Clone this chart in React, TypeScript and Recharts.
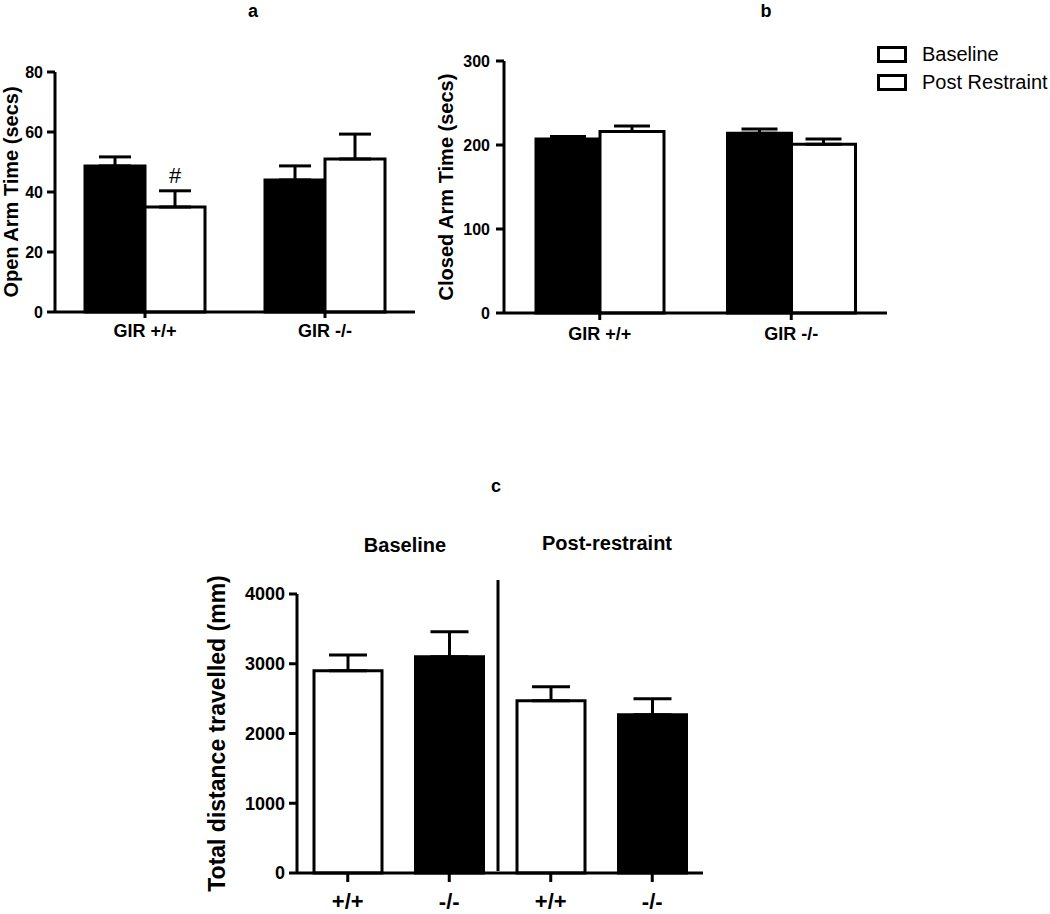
import { BarChart, Bar, XAxis, YAxis, ErrorBar, Legend, LabelList, Cell } from "recharts"

// panel a / b categories
const genotypes = ["GIR +/+", "GIR -/-"]

// a: open arm time (secs)
const openBaseline = [48.7, 44]
const openBaselineSem = [3, 4.7]
const openPost = [35, 51]
const openPostSem = [5.4, 8.3]
const openMarks = ["#", ""]
const openTicks = [0, 20, 40, 60, 80]

// b: closed arm time (secs)
const closedBaseline = [207, 214]
const closedBaselineSem = [3, 5]
const closedPost = [216, 201]
const closedPostSem = [6.5, 6]
const closedTicks = [0, 100, 200, 300]

// c: total distance travelled (mm)
const distanceGroups = ["Baseline", "Post-restraint"]
const distanceIds = ["base-wt", "base-ko", "post-wt", "post-ko"]
const distanceGenotypes = ["+/+", "-/-", "+/+", "-/-"]
const distanceValues = [2900, 3100, 2470, 2270]
const distanceSem = [225, 360, 200, 230]
const distanceTicks = [0, 1000, 2000, 3000, 4000]

const openData = genotypes.map((g, i) => ({
  genotype: g,
  baseline: openBaseline[i],
  baselineErr: [0, openBaselineSem[i]],
  post: openPost[i],
  postErr: [0, openPostSem[i]],
  mark: openMarks[i],
}))

const closedData = genotypes.map((g, i) => ({
  genotype: g,
  baseline: closedBaseline[i],
  baselineErr: [0, closedBaselineSem[i]],
  post: closedPost[i],
  postErr: [0, closedPostSem[i]],
}))

const distanceData = distanceIds.map((id, i) => ({
  id,
  genotype: distanceGenotypes[i],
  distance: distanceValues[i],
  err: [0, distanceSem[i]],
}))

const axisStyle = { stroke: "#000", strokeWidth: 3 }

const yTitle = (text: string, dx: number, size: number) => (props: any) => {
  const vb = props.viewBox
  const cx = vb.x + dx
  const cy = vb.y + vb.height / 2
  return (
    <text
      x={cx}
      y={cy}
      transform={`rotate(-90 ${cx} ${cy})`}
      textAnchor="middle"
      dominantBaseline="central"
      fontSize={size}
      fontWeight="bold"
      fill="#000"
    >
      {text}
    </text>
  )
}

const renderLegend = (props: any) => (
  <div style={{ fontSize: 20, color: "#000", whiteSpace: "nowrap" }}>
    {(props.payload || []).map((entry: any) => (
      <div key={entry.value} style={{ display: "flex", alignItems: "center", height: 28 }}>
        <span
          style={{
            width: 24,
            height: 11,
            border: "3px solid #000",
            background: "#fff",
            marginRight: 15,
            flexShrink: 0,
          }}
        />
        <span>{entry.value}</span>
      </div>
    ))}
  </div>
)

export default function App() {
  return (
    <div
      style={{
        position: "absolute",
        left: 0,
        top: 0,
        width: 1050,
        height: 914,
        background: "#fff",
        fontFamily: "'Liberation Sans', Arial, sans-serif",
      }}
    >
      {/* a */}
      <div style={{ position: "absolute", left: 0, top: 0 }}>
        <BarChart
          width={430}
          height={360}
          data={openData}
          margin={{ top: 72, right: 15, bottom: 8, left: 0 }}
          barCategoryGap={30}
          barGap={0}
        >
          <XAxis
            dataKey="genotype"
            height={40}
            interval={0}
            axisLine={axisStyle}
            tickLine={axisStyle}
            tickSize={6}
            tickMargin={6}
            tick={{ fill: "#000", fontSize: 18, fontWeight: "bold" }}
          />
          <YAxis
            width={55}
            domain={[0, 80]}
            ticks={openTicks}
            interval={0}
            axisLine={axisStyle}
            tickLine={axisStyle}
            tickSize={8}
            tickMargin={4}
            tick={{ fill: "#000", fontSize: 16, fontWeight: "bold" }}
            label={yTitle("Open Arm Time (secs)", 10.5, 20)}
          />
          <Bar dataKey="baseline" name="Baseline" fill="#000" stroke="#000" strokeWidth={3} isAnimationActive={false}>
            <ErrorBar dataKey="baselineErr" direction="y" width={16} stroke="#000" strokeWidth={3} isAnimationActive={false} />
          </Bar>
          <Bar dataKey="post" name="Post Restraint" fill="#fff" stroke="#000" strokeWidth={3} isAnimationActive={false}>
            <ErrorBar dataKey="postErr" direction="y" width={16} stroke="#000" strokeWidth={3} isAnimationActive={false} />
            <LabelList dataKey="mark" position="top" offset={24} fill="#000" fontSize={22} />
          </Bar>
        </BarChart>
      </div>

      {/* b */}
      <div style={{ position: "absolute", left: 420, top: 0 }}>
        <BarChart
          width={630}
          height={360}
          data={closedData}
          margin={{ top: 61, right: 163, bottom: 7, left: 0 }}
          barCategoryGap={32}
          barGap={0}
        >
          <XAxis
            dataKey="genotype"
            height={40}
            interval={0}
            axisLine={axisStyle}
            tickLine={axisStyle}
            tickSize={7}
            tickMargin={7}
            tick={{ fill: "#000", fontSize: 18, fontWeight: "bold" }}
          />
          <YAxis
            width={84}
            domain={[0, 300]}
            ticks={closedTicks}
            interval={0}
            axisLine={axisStyle}
            tickLine={axisStyle}
            tickSize={8}
            tickMargin={6}
            tick={{ fill: "#000", fontSize: 16, fontWeight: "bold" }}
            label={yTitle("Closed Arm Time (secs)", 26, 20)}
          />
          <Legend
            layout="vertical"
            align="center"
            verticalAlign="middle"
            wrapperStyle={{ left: 457, top: 40, width: "auto" }}
            content={renderLegend}
          />
          <Bar dataKey="baseline" name="Baseline" fill="#000" stroke="#000" strokeWidth={3} isAnimationActive={false}>
            <ErrorBar dataKey="baselineErr" direction="y" width={18} stroke="#000" strokeWidth={3} isAnimationActive={false} />
          </Bar>
          <Bar dataKey="post" name="Post Restraint" fill="#fff" stroke="#000" strokeWidth={3} isAnimationActive={false}>
            <ErrorBar dataKey="postErr" direction="y" width={18} stroke="#000" strokeWidth={3} isAnimationActive={false} />
          </Bar>
        </BarChart>
      </div>

      {/* c */}
      <div style={{ position: "absolute", left: 190, top: 480 }}>
        <BarChart
          width={530}
          height={434}
          data={distanceData}
          margin={{ top: 114, right: 17, bottom: 0, left: 0 }}
          barCategoryGap={17}
        >
          <XAxis
            dataKey="id"
            height={41}
            interval={0}
            tickFormatter={(id: string) => distanceGenotypes[distanceIds.indexOf(id)]}
            axisLine={axisStyle}
            tickLine={axisStyle}
            tickSize={9}
            tickMargin={11}
            tick={{ fill: "#000", fontSize: 22, fontWeight: "bold" }}
          />
          <YAxis
            width={107}
            domain={[0, 4000]}
            ticks={distanceTicks}
            interval={0}
            axisLine={axisStyle}
            tickLine={axisStyle}
            tickSize={8}
            tickMargin={4}
            tick={{ fill: "#000", fontSize: 18, fontWeight: "bold" }}
            label={yTitle("Total distance travelled (mm)", 27, 23)}
          />
          <Bar dataKey="distance" stroke="#000" strokeWidth={3} isAnimationActive={false}>
            {distanceData.map((d) => (
              <Cell key={d.id} fill={d.genotype === "+/+" ? "#fff" : "#000"} />
            ))}
            <ErrorBar dataKey="err" direction="y" width={19} stroke="#000" strokeWidth={3} isAnimationActive={false} />
          </Bar>
        </BarChart>
      </div>

      {/* panel letters, group headings, divider */}
      <svg
        width={1050}
        height={914}
        style={{ position: "absolute", left: 0, top: 0, pointerEvents: "none" }}
      >
        <g fontWeight="bold" fontSize={18} fill="#000" textAnchor="middle">
          <text x={253} y={17}>a</text>
          <text x={766} y={17}>b</text>
          <text x={496} y={492}>c</text>
        </g>
        <g fontWeight="bold" fontSize={20} fill="#000" textAnchor="middle">
          <text x={405} y={552}>{distanceGroups[0]}</text>
          <text x={607} y={550}>{distanceGroups[1]}</text>
        </g>
        <line x1={498} y1={580} x2={498} y2={871} stroke="#000" strokeWidth={3} />
      </svg>
    </div>
  )
}
